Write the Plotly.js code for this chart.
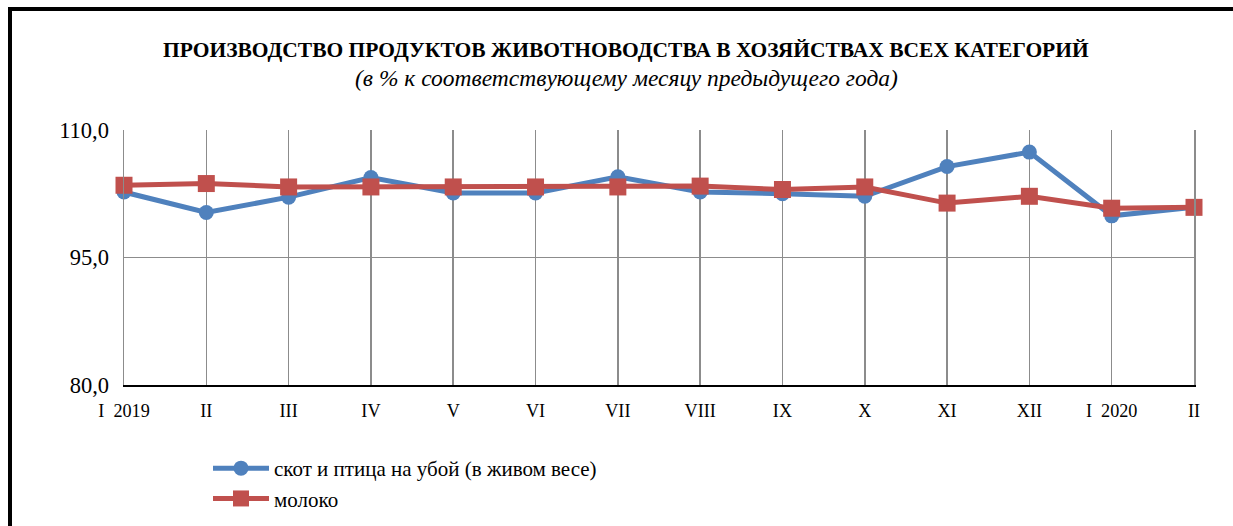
<!DOCTYPE html>
<html>
<head>
<meta charset="utf-8">
<script src="https://cdn.plot.ly/plotly-3.0.1.min.js"></script>
<style>
html,body{margin:0;padding:0;background:#fff;}
#chart{width:1233px;height:526px;}
</style>
</head>
<body>
<div id="chart"></div>
<script>
const categories = ["I\u00a0\u00a02019","II","III","IV","V","VI","VII","VIII","IX","X","XI","XII","I\u00a0\u00a02020","II"];
const livestock = [102.7,100.3,102.1,104.4,102.6,102.6,104.5,102.7,102.5,102.2,105.7,107.4,99.9,100.9];
const milk = [103.5,103.7,103.3,103.3,103.3,103.3,103.3,103.4,103.0,103.3,101.4,102.2,100.8,100.9];
const seriesNames = ["скот и птица на убой (в живом весе)","молоко"];
const titleText = "<b>ПРОИЗВОДСТВО ПРОДУКТОВ ЖИВОТНОВОДСТВА В ХОЗЯЙСТВАХ ВСЕХ КАТЕГОРИЙ</b>";
const subtitleText = "<i>(в % к соответствующему месяцу предыдущего года)</i>";
const yTicks = [80,95,110];
const yTickText = ["80,0","95,0","110,0"];

const xIdx = categories.map((c,i)=>i);
const font = "Liberation Serif";

const traces = [
  {x:xIdx, y:livestock, name:seriesNames[0], type:"scatter", mode:"lines+markers",
   line:{color:"#4F81BD", width:5}, marker:{symbol:"circle", size:15, color:"#4F81BD"},
   cliponaxis:false, legendgroup:"a"},
  {x:xIdx, y:milk, name:seriesNames[1], type:"scatter", mode:"lines+markers",
   line:{color:"#C0504D", width:5}, marker:{symbol:"square", size:17, color:"#C0504D"},
   cliponaxis:false, legendgroup:"b"}
];

const L=124, R=39, T=130, B=141;
const W=1233-L-R, H=526-T-B;
const px = v => (v-L)/W;
const py = v => 1 - (v-T)/H;

const layout = {
  width:1233, height:526,
  margin:{l:L, r:R, t:T, b:B, pad:0, autoexpand:false},
  paper_bgcolor:"#fff", plot_bgcolor:"#fff",
  font:{family:font, color:"#000"},
  showlegend:true,
  legend:{x:px(208), y:py(448), xanchor:"left", yanchor:"top",
          font:{family:font, size:21, color:"#000"}, itemwidth:56, tracegroupgap:0,
          bgcolor:"rgba(0,0,0,0)"},
  xaxis:{range:[0,13], tickvals:xIdx, ticktext:categories, showgrid:true,
         gridcolor:"#8c8c8c", gridwidth:1.5, zeroline:false, showline:true,
         linecolor:"#000", linewidth:2, ticks:"", ticklabelstandoff:8,
         tickfont:{family:font, size:18.2, color:"#000"}, fixedrange:true, automargin:false},
  yaxis:{range:[80,110], tickvals:yTicks, ticktext:yTickText, showgrid:true,
         gridcolor:"#8c8c8c", gridwidth:1.5, zeroline:false, showline:true, mirror:true,
         linecolor:"#8c8c8c", linewidth:1.5, ticks:"", ticklabelstandoff:9,
         tickfont:{family:font, size:22.5, color:"#000"}, fixedrange:true, automargin:false},
  annotations:[
    {text:titleText, xref:"paper", yref:"paper", x:px(626), y:py(50), xanchor:"center", yanchor:"middle",
     showarrow:false, font:{family:font, size:21.5, color:"#000"}},
    {text:subtitleText, xref:"paper", yref:"paper", x:px(626), y:py(78), xanchor:"center", yanchor:"middle",
     showarrow:false, font:{family:font, size:23.5, color:"#000"}}
  ],
  shapes:[
    {type:"line", xref:"paper", yref:"paper", x0:px(10), x1:px(10), y0:py(7), y1:py(530), line:{color:"#000", width:4}},
    {type:"line", xref:"paper", yref:"paper", x0:px(8), x1:px(1240), y0:py(9), y1:py(9), line:{color:"#000", width:4}}
  ]
};

Plotly.newPlot("chart", traces, layout, {displayModeBar:false, staticPlot:true});
</script>
</body>
</html>
